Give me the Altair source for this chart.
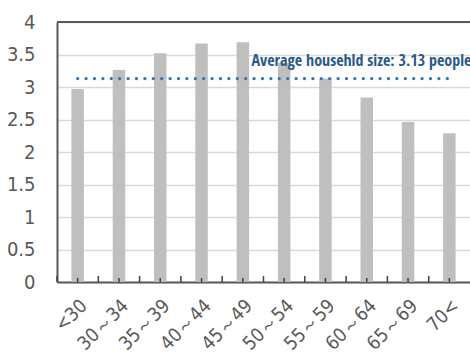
import altair as alt
import pandas as pd

# Average household size by age of household head
age_groups = ["<30", "30～34", "35～39", "40～44", "45～49",
              "50～54", "55～59", "60～64", "65～69", "70<"]
household_size = [2.97, 3.26, 3.52, 3.67, 3.69, 3.37, 3.13, 2.84, 2.46, 2.29]
average_size = 3.13
y_ticks = [0, 0.5, 1, 1.5, 2, 2.5, 3, 3.5, 4]

FONT = "DejaVu Sans Condensed"
NOTE_FONT = "Open Sans Condensed"
W, H = 413, 260

df = pd.DataFrame({"age": age_groups, "size": household_size, "avg": average_size})

x_scale = alt.Scale(paddingInner=0, paddingOuter=0)
y_scale = alt.Scale(domain=[0, 4], nice=False)
x_axis = alt.Axis(title=None, labelAngle=315, labelFont=FONT,
                  labelFontSize=19, labelColor="#595959",
                  labelPadding=14, ticks=False, domain=True,
                  domainColor="#595959", domainWidth=2)
y_axis = alt.Axis(title=None, values=y_ticks, format="~g",
                  labelFont=FONT, labelFontSize=20,
                  labelColor="#595959", labelPadding=22,
                  ticks=False, domain=True, domainColor="#595959",
                  domainWidth=2, grid=True, gridColor="#d9d9d9",
                  gridWidth=1.5)

x_enc = alt.X("age:N", sort=age_groups, scale=x_scale, axis=x_axis)

base = alt.Chart(df)

bars = base.mark_bar(color="#bfbfbf", width=12.5).encode(
    x=x_enc,
    y=alt.Y("size:Q", scale=y_scale, axis=y_axis),
)

# inward ticks at category centres and category boundaries
center_ticks = base.mark_rule(color="#404040", strokeWidth=1.5).encode(
    x=x_enc,
    y=alt.value(H), y2=alt.value(H - 4),
)
edge_ticks = base.mark_rule(color="#404040", strokeWidth=1.5).encode(
    x=alt.X("age:N", sort=age_groups, scale=x_scale, axis=x_axis, bandPosition=0),
    y=alt.value(H), y2=alt.value(H - 6),
)

# top frame line
top_line = base.mark_rule(color="#595959", strokeWidth=2).encode(
    y=alt.value(0),
)

avg_line = base.mark_line(color="#2e75b6", strokeWidth=3.2,
                          strokeDash=[0.1, 8.3], strokeCap="round").encode(
    x=x_enc,
    y=alt.Y("avg:Q", scale=y_scale, axis=y_axis),
)

label = alt.Chart(pd.DataFrame({"age": [age_groups[-1]], "avg": [average_size],
                                "text": [f"Average househld size: {average_size} people"]})
                  ).mark_text(align="right", baseline="middle", dx=22, dy=-18,
                              font=NOTE_FONT, fontSize=16, fontWeight="bold",
                              color="#2b5a8a").encode(
    x=x_enc,
    y=alt.Y("avg:Q", scale=y_scale, axis=y_axis),
    text="text:N",
)

chart = alt.layer(bars, center_ticks, edge_ticks, top_line, avg_line, label).properties(
    width=W, height=H,
    autosize=alt.AutoSizeParams(type="none"),
    padding={"left": 57, "top": 22, "right": 0, "bottom": 79},
).configure_view(stroke=None).configure(background="white")

chart.save("out.html", embed_options={"renderer": "svg", "actions": False})
